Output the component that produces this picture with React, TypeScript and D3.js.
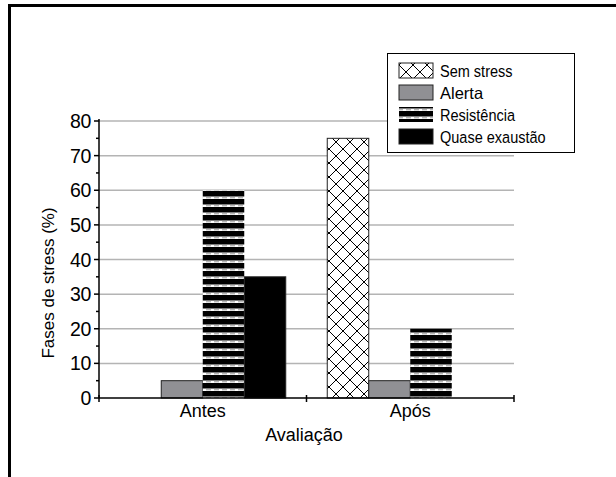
import React from 'react';
import * as d3 from 'd3';

const categories = ['Antes', 'Após'];
const series = ['Sem stress', 'Alerta', 'Resistência', 'Quase exaustão'];
const semStress = [0, 75];
const alerta = [5, 5];
const resistencia = [60, 20];
const quaseExaustao = [35, 0];
const yTicks = [0, 10, 20, 30, 40, 50, 60, 70, 80];
const yMinorTicks = [5, 15, 25, 35, 45, 55, 65, 75];

const values = [semStress, alerta, resistencia, quaseExaustao];
const fills = ['url(#cross)', '#909094', 'url(#stripes)', '#000'];

const sans = '"Liberation Sans", Arial, sans-serif';

export default function App() {
  const width = 616;
  const height = 477;

  const x0 = d3.scaleBand().domain(categories).range([99, 514]);
  const x1 = d3.scaleBand().domain(series).range([0, x0.bandwidth()]).paddingOuter(0.5);
  const y = d3.scaleLinear().domain([0, 80]).range([398, 121]);

  const bars: { key: string; x: number; y: number; w: number; h: number; fill: string; s: number }[] = [];
  categories.forEach((c, ci) => {
    series.forEach((s, si) => {
      const v = values[si][ci];
      if (v <= 0) return;
      bars.push({
        key: c + s,
        x: (x0(c) as number) + (x1(s) as number),
        y: y(v),
        w: x1.bandwidth(),
        h: y(0) - y(v),
        fill: fills[si],
        s: si,
      });
    });
  });

  return (
    <svg width={width} height={height} style={{ position: 'absolute', left: 0, top: 0, background: '#fff' }}>
      <defs>
        <pattern id="cross" width="14" height="14" patternUnits="userSpaceOnUse" x="0" y="2">
          <rect width="14" height="14" fill="#fff" />
          <path d="M0,0L14,14M14,0L0,14M-1,13L1,15M13,-1L15,1" stroke="#000" strokeWidth="1" />
        </pattern>
        <pattern id="stripes" width="8" height="8" patternUnits="userSpaceOnUse" x="0" y="191">
          <rect width="8" height="8" fill="#fff" />
          <rect width="8" height="5.5" fill="#000" />
          <line x1="0" x2="8" y1="6.8" y2="6.8" stroke="#999" strokeWidth="1" strokeDasharray="3,3" />
        </pattern>
      </defs>

      {/* outer frame */}
      <rect x={9.5} y={5.5} width={700} height={600} fill="none" stroke="#000" strokeWidth={3} />

      {/* grid */}
      {yTicks.slice(1).map(t => (
        <line key={'g' + t} x1={99} x2={514} y1={y(t)} y2={y(t)} stroke="#b4b4b4" strokeWidth={1.5} />
      ))}

      {/* bars */}
      {bars.map(b => (
        <rect key={b.key} x={b.x} y={b.y} width={b.w} height={b.h} fill={b.fill}
          stroke={b.s === 2 ? 'none' : '#222'} strokeWidth={1} />
      ))}

      {/* axes */}
      <line x1={99} x2={99} y1={y(80) - 2} y2={y(0)} stroke="#000" strokeWidth={1.5} />
      <line x1={99} x2={514} y1={y(0)} y2={y(0)} stroke="#000" strokeWidth={1.5} />
      {yTicks.map(t => (
        <g key={'t' + t}>
          <line x1={94} x2={99} y1={y(t)} y2={y(t)} stroke="#000" strokeWidth={1.5} />
          <text x={91} y={y(t) + 7} textAnchor="end" fontFamily={sans} fontSize={19.5} letterSpacing={-0.3}>{t}</text>
        </g>
      ))}
      {yMinorTicks.map(t => (
        <line key={'m' + t} x1={96} x2={99} y1={y(t)} y2={y(t)} stroke="#000" strokeWidth={1.5} />
      ))}
      {[99, x0('Após') as number, 514].map(xx => (
        <line key={'xt' + xx} x1={xx} x2={xx} y1={y(0) - 3} y2={y(0) + 4} stroke="#000" strokeWidth={1.5} />
      ))}
      {categories.map(c => (
        <text key={'c' + c} x={(x0(c) as number) + x0.bandwidth() / 2} y={417} textAnchor="middle" fontFamily={sans} fontSize={18}>{c}</text>
      ))}
      <text x={304} y={441} textAnchor="middle" fontFamily={sans} fontSize={18}>Avaliação</text>
      <text transform="translate(54,283) rotate(-90)" textAnchor="middle" fontFamily={sans} fontSize={17}>Fases de stress (%)</text>

      {/* legend */}
      <rect x={387.5} y={53.5} width={187} height={99} fill="#fff" stroke="#000" strokeWidth={1} />
      {series.map((s, i) => {
        const cy = 70.5 + i * 22;
        return (
          <g key={'l' + s}>
            <rect x={399} y={cy - 7.5} width={34} height={15} fill={fills[i]}
              stroke={i === 2 ? 'none' : '#222'} strokeWidth={1} />
            {i === 1 ? (
              <text x={440} y={cy + 6} fontFamily={sans} fontSize={16.5}>{s}</text>
            ) : (
              <text transform={`translate(440,${cy + 6}) scale(0.88,1)`} fontFamily={sans} fontSize={16.5}>{s}</text>
            )}
          </g>
        );
      })}
    </svg>
  );
}
